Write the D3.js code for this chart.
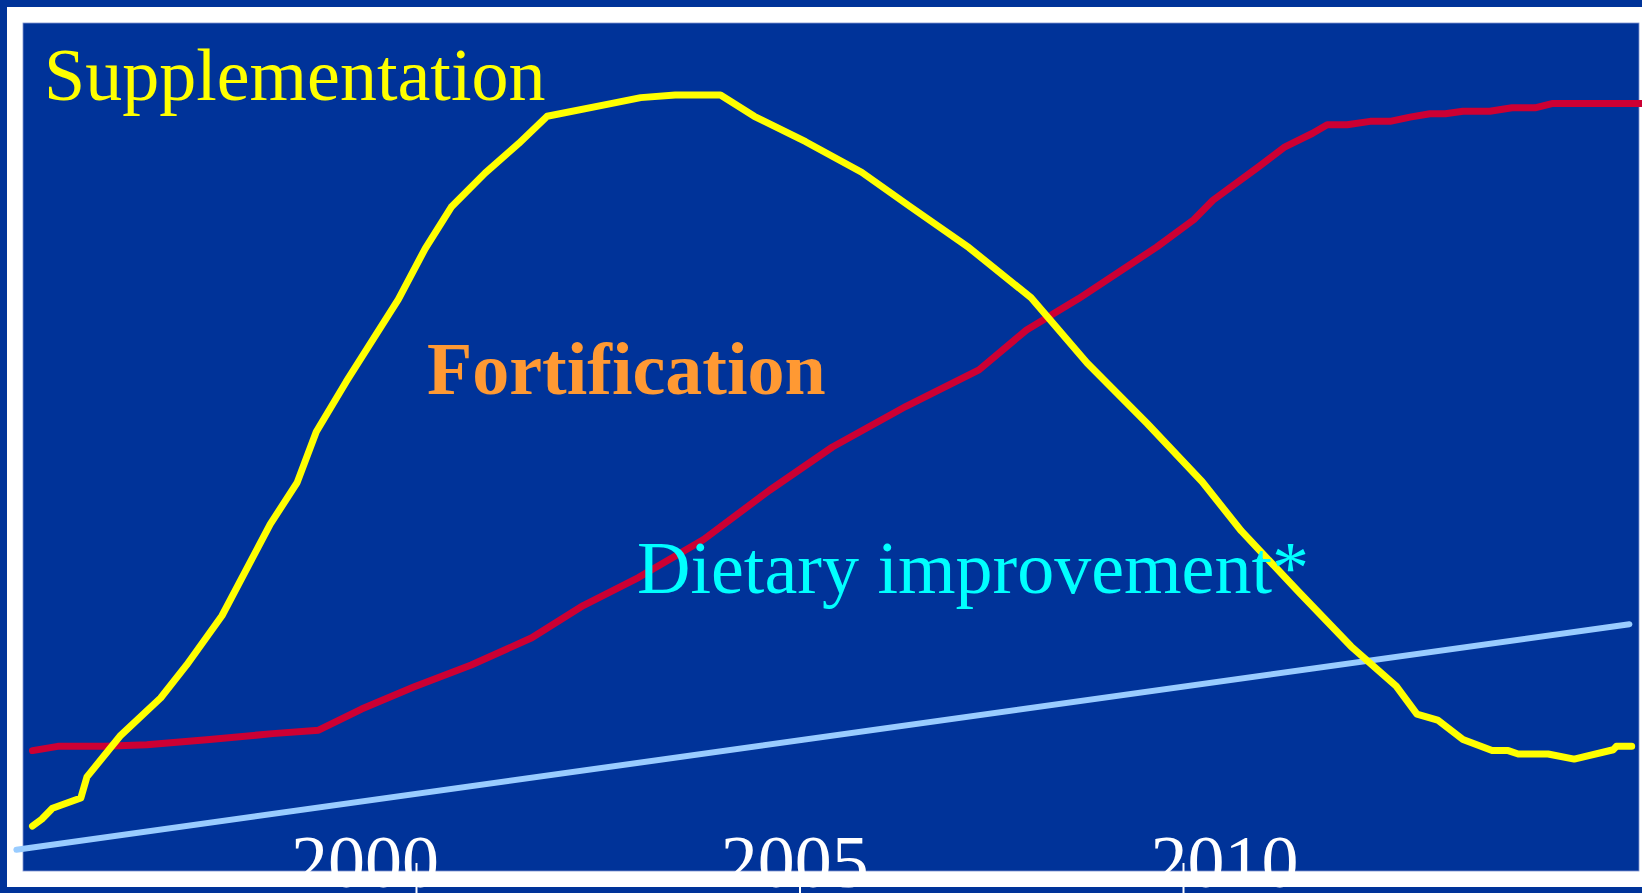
<!DOCTYPE html>
<html lang="en">
    <head>
        <meta charset="utf-8">
        <title>Supplementation, Fortification, Dietary improvement</title>
        <script type="text/javascript" src="https://cdn.jsdelivr.net/npm/d3@7/dist/d3.min.js"></script>
        <style>
            body { margin: 0; background: #003399; }
            svg { display: block; }
        </style>
    </head>
    <body>
    <svg width='1642' height='893'></svg>
        <script type="text/javascript">
            // values (year, relative level 0-100)
            var suppYears = [1995.0, 1995.12, 1995.26, 1995.63, 1995.71, 1996.15, 1996.67, 1997.01, 1997.47, 1997.82,
                             1998.10, 1998.45, 1998.70, 1999.09, 1999.77, 2000.12, 2000.46, 2000.90, 2001.34, 2001.71,
                             2002.54, 2002.93, 2003.38, 2003.97, 2004.41, 2005.08, 2005.81, 2006.45, 2007.21, 2008.02,
                             2008.75, 2009.53, 2010.25, 2010.76, 2011.51, 2012.19, 2012.78, 2013.05, 2013.32, 2013.65,
                             2014.03, 2014.24, 2014.37, 2014.76, 2015.10, 2015.61, 2015.65, 2015.85];
            var suppValues = [5.3, 6.1, 7.4, 8.6, 11.1, 16.0, 20.4, 24.3, 30.1, 36.1,
                              40.9, 45.8, 51.8, 57.7, 67.4, 73.4, 78.3, 82.3, 85.8, 89.0,
                              90.5, 91.2, 91.5, 91.5, 89.0, 86.0, 82.4, 78.3, 73.5, 67.6,
                              59.9, 52.8, 45.9, 40.1, 32.9, 26.5, 21.8, 18.5, 17.8, 15.5,
                              14.2, 14.2, 13.8, 13.8, 13.2, 14.3, 14.7, 14.7];

            var fortYears = [1995.0, 1995.33, 1995.94, 1996.49, 1997.31, 1998.13, 1998.73, 1999.29, 1999.97, 2000.72,
                             2001.51, 2002.18, 2002.90, 2003.75, 2004.61, 2005.43, 2006.39, 2007.34, 2007.96, 2008.64,
                             2009.66, 2010.14, 2010.39, 2010.98, 2011.33, 2011.69, 2011.88, 2012.14, 2012.44, 2012.70,
                             2012.96, 2013.22, 2013.42, 2013.65, 2014.00, 2014.29, 2014.59, 2014.81, 2015.98];
            var fortValues = [14.2, 14.7, 14.7, 14.9, 15.5, 16.2, 16.6, 19.1, 21.7, 24.3,
                              27.5, 31.3, 34.6, 39.1, 44.9, 50.0, 54.8, 59.1, 63.8, 67.5,
                              73.6, 76.8, 79.1, 83.0, 85.4, 87.0, 88.0, 88.0, 88.4, 88.4,
                              88.9, 89.3, 89.3, 89.6, 89.6, 90.0, 90.0, 90.5, 90.5];

            var dietYears = [1994.79, 2015.82];
            var dietValues = [2.5, 29.1];

            var tickYears = [2000, 2005, 2010];

            var svg = d3.select('svg'),
                W = +svg.attr('width'),
                H = +svg.attr('height');

            // frame: white band around the plot
            svg.append('rect')
                .attr('x', 7).attr('y', 7)
                .attr('width', W).attr('height', 880)
                .attr('fill', 'white');
            svg.append('rect')
                .attr('x', 23).attr('y', 23)
                .attr('width', 1616).attr('height', 848)
                .attr('fill', '#003399')
                .attr('stroke', '#7f95cf')
                .attr('stroke-width', 0.8);

            var xScale = d3.scaleLinear().domain([1995, 2015]).range([32.5, 1566.5]),
                yScale = d3.scaleLinear().domain([0, 100]).range([871, 23]);
            // tick labels sit a bit off their ticks in the original
            var labelScale = d3.scaleLinear().domain([2000, 2010]).range([364.5, 1224]);

            var line = d3.line()
                .x(function(d) { return xScale(d[0]); })
                .y(function(d) { return yScale(d[1]); });

            function pairs(xs, ys) {
                return xs.map(function(x, i) { return [x, ys[i]]; });
            }

            var series = [
                { data: pairs(dietYears, dietValues), color: '#99ccff', width: 6 },
                { data: pairs(fortYears, fortValues), color: '#cc0033', width: 7 },
                { data: pairs(suppYears, suppValues), color: '#ffff00', width: 7 }
            ];

            svg.selectAll('.series')
                .data(series)
                .enter().append('path')
                .attr('class', 'series')
                .attr('d', function(d) { return line(d.data); })
                .attr('fill', 'none')
                .attr('stroke', function(d) { return d.color; })
                .attr('stroke-width', function(d) { return d.width; })
                .attr('stroke-linejoin', 'round')
                .attr('stroke-linecap', 'round');

            // x axis ticks with their labels
            var axis = svg.append('g')
                .attr('transform', 'translate(0,863)')
                .call(d3.axisBottom(xScale).tickValues(tickYears).tickSize(30).tickFormat(d3.format('d')));
            axis.select('.domain').remove();
            axis.selectAll('.tick line')
                .attr('stroke', 'white')
                .attr('stroke-width', 2);
            axis.selectAll('.tick text')
                .attr('x', function(d) { return labelScale(d) - xScale(d); })
                .attr('y', 24)
                .attr('dy', 0)
                .attr('fill', 'white')
                .attr('font-family', '"Liberation Serif", "Times New Roman", serif')
                .attr('font-size', '74px')
                .attr('text-anchor', 'middle');

            var labels = [
                { text: 'Supplementation', x: 44, y: 100, color: '#ffff00', weight: 'normal' },
                { text: 'Fortification', x: 427, y: 394, color: '#ff9933', weight: 'bold' },
                { text: 'Dietary improvement*', x: 637, y: 593, color: '#00ffff', weight: 'normal' }
            ];

            svg.selectAll('.label')
                .data(labels)
                .enter().append('text')
                .attr('class', 'label')
                .attr('x', function(d) { return d.x; })
                .attr('y', function(d) { return d.y; })
                .attr('fill', function(d) { return d.color; })
                .attr('font-weight', function(d) { return d.weight; })
                .attr('font-family', '"Liberation Serif", "Times New Roman", serif')
                .attr('font-size', '74px')
                .text(function(d) { return d.text; });
        </script>
    </body>
</html>
